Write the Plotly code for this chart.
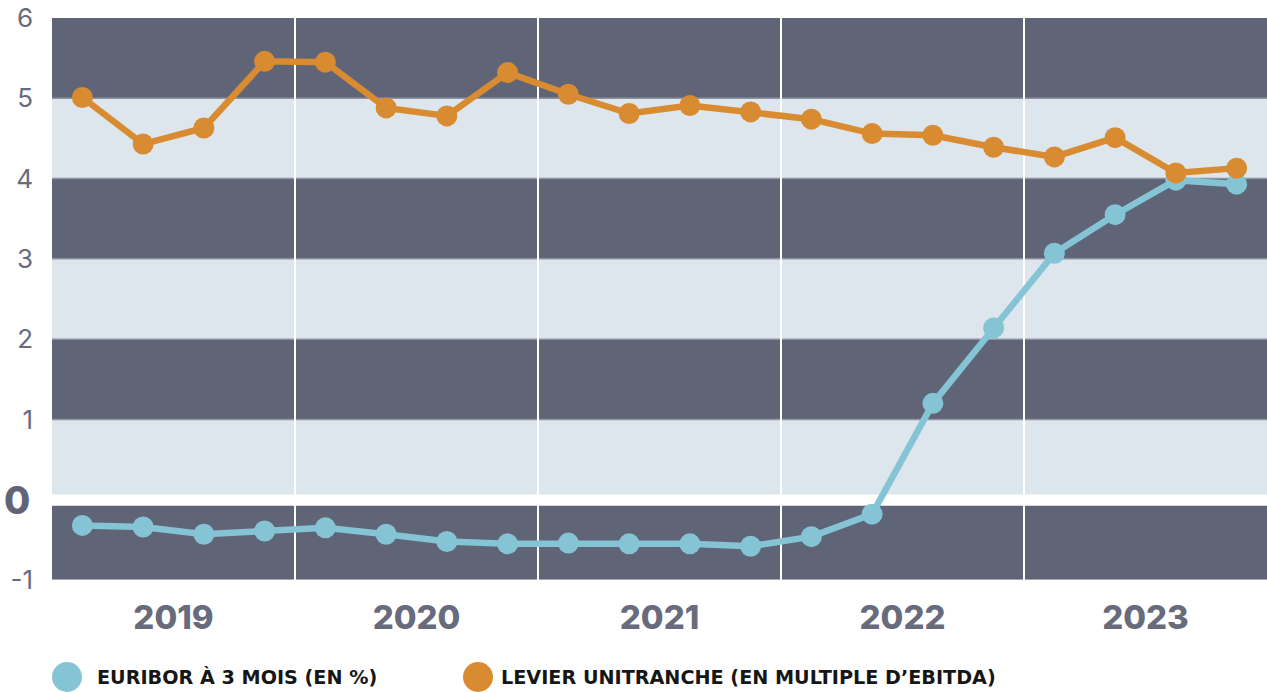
import plotly.graph_objects as go

quarters = list(range(20))
years = ["2019", "2020", "2021", "2022", "2023"]
euribor = [-0.32, -0.34, -0.43, -0.39, -0.35, -0.43, -0.52, -0.55, -0.54, -0.55,
           -0.55, -0.58, -0.46, -0.18, 1.20, 2.14, 3.07, 3.55, 3.98, 3.93]
levier = [5.01, 4.43, 4.63, 5.46, 5.45, 4.88, 4.78, 5.32, 5.05, 4.81,
          4.91, 4.83, 4.74, 4.56, 4.54, 4.39, 4.27, 4.51, 4.07, 4.13]
y_ticks = [-1, 0, 1, 2, 3, 4, 5, 6]
y_ticktext = ["-1", "", "1", "2", "3", "4", "5", "6"]
names = ["EURIBOR À 3 MOIS (EN %)", "LEVIER UNITRANCHE (EN MULTIPLE D’EBITDA)"]

DARK = "#5f6477"
LIGHT = "#dce6ec"
BLUE = "#84c4d4"
ORANGE = "#d98b31"
FONT = "Inter"

xq = [q + 0.5 for q in quarters]

fig = go.Figure()
fig.add_trace(go.Scatter(x=xq, y=euribor, mode="lines+markers", name=names[0],
                         line=dict(color=BLUE, width=6.5), marker=dict(color=BLUE, size=21),
                         showlegend=False))
fig.add_trace(go.Scatter(x=xq, y=levier, mode="lines+markers", name=names[1],
                         line=dict(color=ORANGE, width=6.5), marker=dict(color=ORANGE, size=21),
                         showlegend=False))

shapes = []
for lo in range(-1, 6):
    col = DARK if (lo % 2 != 0) else LIGHT
    shapes.append(dict(type="rect", xref="paper", yref="y", x0=0, x1=1, y0=lo, y1=lo + 1,
                       fillcolor=col, line=dict(width=0), layer="below"))
# band boundary lines
for b in [-1, 1, 2, 3, 4, 5]:
    shapes.append(dict(type="line", xref="paper", yref="y", x0=0, x1=1, y0=b, y1=b,
                       line=dict(color="#8e93a1" if b > -1 else "#b8bcc6", width=1.5),
                       layer="below"))
# white gap at zero
shapes.append(dict(type="rect", xref="paper", yref="y", x0=0, x1=1, y0=-0.075, y1=0.065,
                   fillcolor="white", line=dict(width=0), layer="below"))
# year separators
for b in [4, 8, 12, 16]:
    shapes.append(dict(type="line", xref="x", yref="paper", x0=b, x1=b, y0=0, y1=1,
                       line=dict(color="white", width=2), layer="below"))

annotations = []
# bold zero label
annotations.append(dict(xref="paper", yref="y", x=-20 / 1215, y=0, xanchor="right",
                        yanchor="middle", showarrow=False, text="0",
                        font=dict(family=FONT, size=38, color="#5f6477", weight=800)))

# legend
leg_y = (580 - 677) / 562
for cx, txt, col, tx in [(67, names[0], BLUE, 95), (478, names[1], ORANGE, 499)]:
    px = (cx - 52) / 1215
    shapes.append(dict(type="circle", xref="paper", yref="paper", xsizemode="pixel",
                       ysizemode="pixel", xanchor=px, yanchor=leg_y, x0=-15, x1=15,
                       y0=-15, y1=15, fillcolor=col, line=dict(width=0)))
    annotations.append(dict(xref="paper", yref="paper", x=(tx - 52) / 1215, y=leg_y,
                            xanchor="left", yanchor="middle", showarrow=False, text=f"<b>{txt}</b>",
                            font=dict(family="DejaVu Sans", size=19.2, color="#161616")))

fig.update_layout(
    width=1267, height=692,
    margin=dict(l=52, r=0, t=18, b=112),
    paper_bgcolor="white", plot_bgcolor="white",
    shapes=shapes, annotations=annotations,
    xaxis=dict(range=[0, 20], tickvals=[2, 6, 10, 14, 18], ticktext=years,
               showgrid=False, zeroline=False, ticks="outside", ticklen=8,
               tickcolor="rgba(0,0,0,0)",
               tickfont=dict(family=FONT, size=33, color="#676b7c", weight=800)),
    yaxis=dict(range=[-1, 6], tickvals=y_ticks, ticktext=y_ticktext,
               showgrid=False, zeroline=False,
               ticklabelstandoff=18,
               tickfont=dict(family=FONT, size=26, color="#676b7c")),
)
fig.write_html("out.html")
